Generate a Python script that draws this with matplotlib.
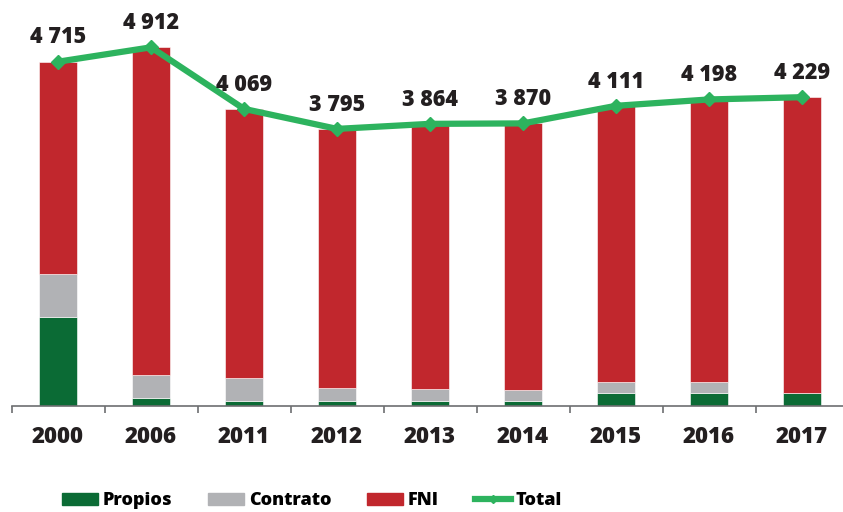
import numpy as np
import matplotlib
matplotlib.use('Agg')
import matplotlib.pyplot as plt
from matplotlib.lines import Line2D
from matplotlib.patches import Patch

years = ['2000', '2006', '2011', '2012', '2013', '2014', '2015', '2016', '2017']
propios = [1219, 114, 73, 73, 73, 73, 182, 182, 182]
contrato = [589, 311, 307, 170, 160, 142, 146, 146, 0]
total = [4715, 4912, 4069, 3795, 3864, 3870, 4111, 4198, 4229]
fni = [t - p - c for t, p, c in zip(total, propios, contrato)]
labels = ['4 715', '4 912', '4 069', '3 795', '3 864', '3 870', '4 111', '4 198', '4 229']

c_prop = '#0B6B35'
c_cont = '#B1B2B5'
c_fni = '#C1272D'
c_tot = '#2DB35E'
dark = '#231F20'

plt.rcParams['font.family'] = ['Open Sans', 'DejaVu Sans']

fig = plt.figure(figsize=(8.43, 5.12), dpi=100)
ax = fig.add_axes([11.5/843, 106/512, 837/843, 406/512])

x = np.arange(len(years))
w = 0.4
p = np.array(propios)
c = np.array(contrato)
f = np.array(fni)
ax.bar(x, p, w, color=c_prop, edgecolor='white', linewidth=0.4)
ax.bar(x, c, w, bottom=p, color=c_cont, edgecolor='white', linewidth=0.4)
ax.bar(x, f, w, bottom=p + c, color=c_fni, edgecolor='white', linewidth=0.4)
ax.plot(x, total, color=c_tot, lw=4.5, marker='D', ms=7, solid_joinstyle='round', zorder=3)

for xi, t, lab in zip(x, total, labels):
    ax.annotate(lab, (xi, t), xytext=(0, 17.5), textcoords='offset points',
                ha='center', va='center', fontsize=15.5, fontweight=800, color=dark)

ax.set_xlim(-0.5, 8.5)
ax.set_ylim(0, 5560)
for s in ['top', 'right', 'left']:
    ax.spines[s].set_visible(False)
ax.spines['bottom'].set_color('#6D6E71')
ax.spines['bottom'].set_linewidth(1.2)
ax.set_yticks([])
ax.set_xticks(x)
ax.set_xticklabels(years, fontsize=16, fontweight=800, color=dark)
ax.tick_params(axis='x', which='major', length=0, pad=14)
ax.set_xticks(np.arange(-0.5, 9, 1), minor=True)
ax.tick_params(axis='x', which='minor', length=5, width=1.2, color='#6D6E71', direction='out')

handles = [Patch(color=c_prop), Patch(color=c_cont), Patch(color=c_fni),
           Line2D([], [], color=c_tot, lw=4.5, marker='D', ms=4)]
fig.legend(handles, ['Propios', 'Contrato', 'FNI', 'Total'], loc='center',
           bbox_to_anchor=(0.37, 0.022), ncol=4, frameon=False,
           prop={'weight': 800, 'size': 13},
           handlelength=2.0, handleheight=0.6, handletextpad=0.25, columnspacing=2.0,
           borderpad=0.1)

fig.savefig('out.png', dpi=100)
